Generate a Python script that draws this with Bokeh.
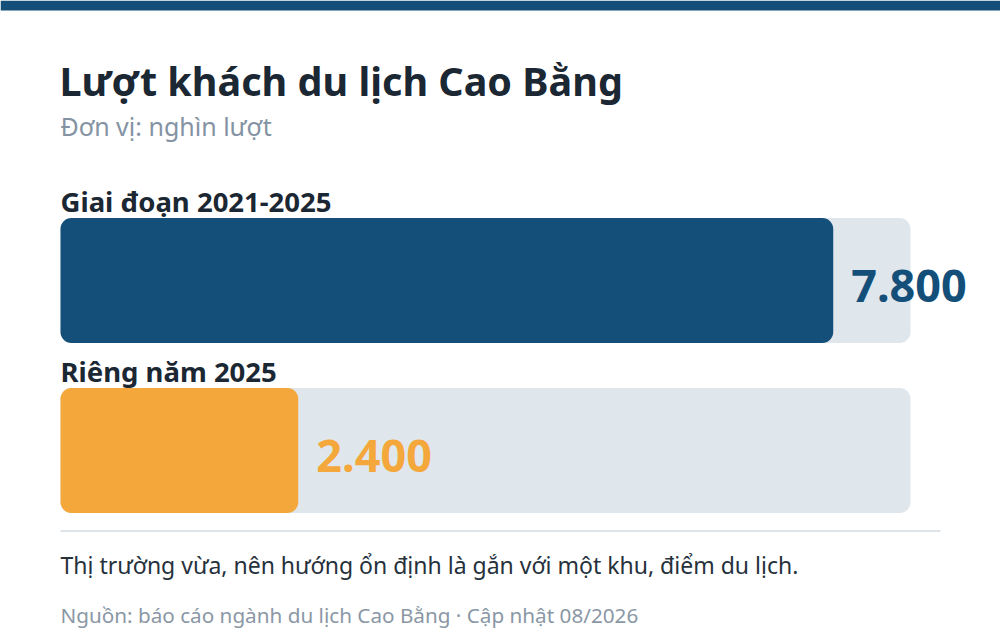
from bokeh.plotting import figure
from bokeh.models import Range1d, Label, BoxAnnotation, ColumnDataSource
from bokeh.core.properties import value
from bokeh.embed import file_html
from bokeh.resources import INLINE

# ---- data ----
categories = ["Giai đoạn 2021-2025", "Riêng năm 2025"]
values = [7800, 2400]
value_labels = ["7.800", "2.400"]
bar_colors = ["#134f79", "#f4a83c"]
title_text = "Lượt khách du lịch Cao Bằng"
subtitle_text = "Đơn vị: nghìn lượt"
note_text = "Thị trường vừa, nên hướng ổn định là gắn với một khu, điểm du lịch."
source_text = "Nguồn: báo cáo ngành du lịch Cao Bằng · Cập nhật 08/2026"

# ---- layout (pixels) ----
W, H = 1000, 640
XMAX = max(values) * 1.1
PLOT_L, PLOT_R = 60, 910
ROW0, ROW_STEP = 280, 170
BAR_PX = 125
FONT = "Noto Sans"
K = 0.4  # baseline compensation (fraction of font size)


def X(px):
    return (px - PLOT_L) * XMAX / (PLOT_R - PLOT_L)


def Y(py):
    return (py - ROW0) / ROW_STEP


p = figure(width=W, height=H,
           x_range=Range1d(X(0), X(W)), y_range=Range1d(Y(H), Y(0)),
           output_backend="svg", toolbar_location=None,
           x_axis_location=None, y_axis_location=None,
           min_border=0, outline_line_color=None)
p.grid.visible = False
p.background_fill_color = "white"
p.border_fill_color = "white"

rows = list(range(len(categories)))
src = ColumnDataSource(dict(y=rows, cat=categories, val=values, lab=value_labels,
                            color=bar_colors, track=[XMAX] * len(values)))

bar_h = BAR_PX / ROW_STEP
p.hbar(y="y", left=0, right="track", height=bar_h, source=src,
       fill_color="#dfe6ec", line_color=None, border_radius=11)
p.hbar(y="y", left=0, right="val", height=bar_h, source=src,
       fill_color="color", line_color=None, border_radius=11)

p.text(x=0, y="y", text="cat", source=src,
       y_offset=-(BAR_PX / 2 + 6 + K * 27.5),
       text_font=value(FONT), text_font_size="27.5px", text_font_style="bold",
       text_color="#1b2733", text_baseline="alphabetic", text_align="left")

p.text(x="val", y="y", text="lab", source=src, x_offset=18, y_offset=5,
       text_font=value(FONT), text_font_size="45px", text_font_style="bold",
       text_color="color", text_baseline="middle", text_align="left")

# top band
p.add_layout(BoxAnnotation(left=X(0), right=X(W), top=Y(0), bottom=Y(10),
                           fill_color="#134f79", fill_alpha=1, line_color=None))
# divider
p.segment(x0=[X(60)], y0=[Y(530.5)], x1=[X(940)], y1=[Y(530.5)],
          line_color="#dde4ea", line_width=2)


def add_label(txt, px, baseline, size, color, bold=False):
    p.add_layout(Label(x=X(px), y=Y(baseline - K * size), text=txt, text_font=FONT,
                       text_font_size=f"{size}px",
                       text_font_style="bold" if bold else "normal",
                       text_color=color, text_baseline="alphabetic"))


add_label(title_text, 59, 96, 39.5, "#1b2733", bold=True)
add_label(subtitle_text, 60, 135, 25, "#8493a3")
add_label(note_text, 60, 574, 23, "#26313c")
add_label(source_text, 60, 623, 20.7, "#8a97a5")

html = file_html(p, INLINE)
html = html.replace("<head>", "<head><style>html,body{margin:0;padding:0;overflow:hidden}</style>", 1)
open("out.html", "w").write(html)
